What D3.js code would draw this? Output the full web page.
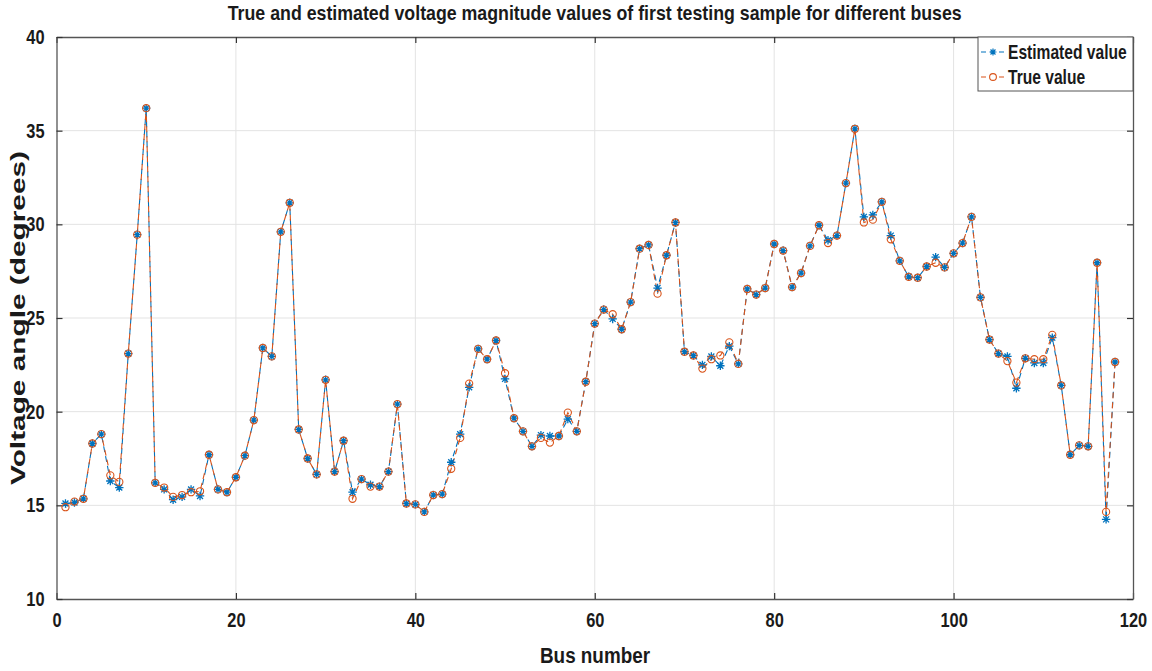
<!DOCTYPE html>
<html>
<head>
<meta charset="utf-8">
<script src="https://cdn.jsdelivr.net/npm/d3@7"></script>
<style>
html,body{margin:0;padding:0;background:#fff;}
svg{display:block;}
text{font-family:"Liberation Sans",Arial,sans-serif;font-weight:bold;fill:#1a1a1a;}
</style>
</head>
<body>
<svg id="chart" width="1152" height="671"></svg>
<script>
const buses = d3.range(1, 119);
const estimated = [
15.1,15.15,15.35,18.3,18.8,16.3,15.95,23.1,29.45,36.2,
16.2,15.85,15.3,15.45,15.85,15.5,17.7,15.85,15.7,16.5,
17.65,19.55,23.4,22.95,29.6,31.15,19.05,17.5,16.65,21.7,
16.8,18.45,15.7,16.4,16.1,16.0,16.8,20.4,15.1,15.05,
14.65,15.55,15.6,17.3,18.8,21.3,23.35,22.8,23.8,21.75,
19.65,18.95,18.15,18.75,18.7,18.7,19.6,18.95,21.6,24.7,
25.45,24.95,24.4,25.85,28.7,28.9,26.6,28.35,30.1,23.2,
23.0,22.5,22.95,22.45,23.5,22.55,26.55,26.25,26.6,28.95,
28.6,26.65,27.4,28.85,29.95,29.15,29.4,32.2,35.1,30.4,
30.5,31.2,29.4,28.05,27.2,27.15,27.75,28.25,27.7,28.45,
29.0,30.4,26.1,23.85,23.1,22.95,21.25,22.85,22.6,22.6,
23.95,21.4,17.7,18.2,18.15,27.95,14.25,22.65];
const trueVals = [
14.9,15.2,15.35,18.3,18.8,16.6,16.25,23.1,29.45,36.2,
16.2,15.95,15.45,15.55,15.7,15.75,17.7,15.85,15.7,16.5,
17.65,19.55,23.4,22.95,29.6,31.15,19.05,17.5,16.65,21.7,
16.8,18.45,15.35,16.4,16.0,16.0,16.8,20.4,15.1,15.05,
14.65,15.55,15.6,16.95,18.6,21.5,23.35,22.8,23.8,22.05,
19.65,18.95,18.15,18.6,18.35,18.7,19.95,18.95,21.6,24.7,
25.45,25.2,24.4,25.85,28.7,28.9,26.3,28.35,30.1,23.2,
23.0,22.3,22.8,23.0,23.7,22.55,26.55,26.25,26.6,28.95,
28.6,26.65,27.4,28.85,29.95,29.0,29.4,32.2,35.1,30.1,
30.25,31.2,29.2,28.05,27.2,27.15,27.75,27.95,27.7,28.45,
29.0,30.4,26.1,23.85,23.1,22.7,21.55,22.85,22.8,22.8,
24.1,21.4,17.7,18.2,18.15,27.95,14.65,22.65];
const xTicks = [0,20,40,60,80,100,120];
const yTicks = [10,15,20,25,30,35,40];
const titleText = "True and estimated voltage magnitude values of first testing sample for different buses";
const xLabel = "Bus number";
const yLabel = "Voltage angle (degrees)";
const seriesNames = ["Estimated value","True value"];
const colors = ["#0072BD","#D95319"];

const L = 56.5, R = 1133, T = 37, B = 599;
const svg = d3.select("#chart");
const x = d3.scaleLinear().domain([0,120]).range([L,R]);
const y = d3.scaleLinear().domain([10,40]).range([B,T]);

function condense(sel, f){
  sel.each(function(){
    const len = this.getComputedTextLength();
    d3.select(this).attr("textLength", len*f).attr("lengthAdjust","spacingAndGlyphs");
  });
}

// grid
const g = svg.append("g");
g.selectAll(".gx").data(xTicks.slice(1,-1)).join("line")
 .attr("x1",d=>x(d)).attr("x2",d=>x(d)).attr("y1",T).attr("y2",B)
 .attr("stroke","#e3e3e3").attr("stroke-width",1);
g.selectAll(".gy").data(yTicks.slice(1,-1)).join("line")
 .attr("y1",d=>y(d)).attr("y2",d=>y(d)).attr("x1",L).attr("x2",R)
 .attr("stroke","#e3e3e3").attr("stroke-width",1);

// axes
const axB = d3.axisBottom(x).tickValues(xTicks).tickSizeInner(-6).tickSizeOuter(0).tickPadding(14);
const axT = d3.axisTop(x).tickValues(xTicks).tickSizeInner(-6).tickSizeOuter(0).tickFormat("");
const axL = d3.axisLeft(y).tickValues(yTicks).tickSizeInner(-6).tickSizeOuter(0).tickPadding(12);
const axR = d3.axisRight(y).tickValues(yTicks).tickSizeInner(-6).tickSizeOuter(0).tickFormat("");
function style(sel){
  sel.select(".domain").attr("stroke","#555").attr("stroke-width",1.3);
  sel.selectAll(".tick line").attr("stroke","#333").attr("stroke-width",1.2);
  sel.selectAll(".tick text").attr("font-size",20).attr("fill","#1a1a1a")
    .style("font-family",'"Liberation Sans",Arial,sans-serif').style("font-weight","bold");
}
const gB = svg.append("g").attr("transform",`translate(0,${B})`).call(axB).call(style);
svg.append("g").attr("transform",`translate(0,${T})`).call(axT).call(style);
const gL = svg.append("g").attr("transform",`translate(${L},0)`).call(axL).call(style);
svg.append("g").attr("transform",`translate(${R},0)`).call(axR).call(style);
condense(gB.selectAll(".tick text"), 0.82);
condense(gL.selectAll(".tick text"), 0.82);

// lines
const data = [estimated, trueVals];
const line = d3.line().x((d,i)=>x(buses[i])).y(d=>y(d));
data.forEach((vals,k)=>{
  svg.append("path").datum(vals).attr("d",line).attr("fill","none")
   .attr("stroke",colors[k]).attr("stroke-width",1.1)
   .attr("stroke-dasharray","6,4")
   .attr("stroke-dashoffset", k===0 ? 0 : 5);
});
// markers
function starPath(cx,cy,r){
  const d=r*0.707;
  return `M${cx-r},${cy}L${cx+r},${cy}M${cx},${cy-r}L${cx},${cy+r}M${cx-d},${cy-d}L${cx+d},${cy+d}M${cx-d},${cy+d}L${cx+d},${cy-d}`;
}
svg.append("g").selectAll("path").data(estimated).join("path")
 .attr("d",(d,i)=>starPath(x(buses[i]),y(d),4.2))
 .attr("stroke",colors[0]).attr("stroke-width",1.3).attr("fill","none");
svg.append("g").selectAll("circle").data(trueVals).join("circle")
 .attr("cx",(d,i)=>x(buses[i])).attr("cy",d=>y(d)).attr("r",3.6)
 .attr("fill","none").attr("stroke",colors[1]).attr("stroke-width",1.1);

// title & labels
svg.append("text").attr("x",(L+R)/2).attr("y",20).attr("text-anchor","middle")
 .attr("font-size",21).attr("textLength",734).attr("lengthAdjust","spacingAndGlyphs").text(titleText);
svg.append("text").attr("x",595).attr("y",663).attr("text-anchor","middle")
 .attr("font-size",22).attr("textLength",110).attr("lengthAdjust","spacingAndGlyphs").text(xLabel);
svg.append("text").attr("transform",`translate(25,${(T+B)/2}) rotate(-90)`).attr("text-anchor","middle")
 .attr("font-size",20).attr("textLength",334).attr("lengthAdjust","spacingAndGlyphs").text(yLabel);

// legend
const lg = svg.append("g");
lg.append("rect").attr("x",978).attr("y",T).attr("width",R-978).attr("height",54)
 .attr("fill","#fff").attr("stroke","#555").attr("stroke-width",1);
seriesNames.forEach((n,k)=>{
  const yy = T + 15 + k*25;
  lg.append("line").attr("x1",981).attr("x2",1005).attr("y1",yy).attr("y2",yy)
   .attr("stroke",colors[k]).attr("stroke-width",1.1).attr("stroke-dasharray","5,4");
  if(k===0) lg.append("path").attr("d",starPath(993,yy,3.5)).attr("stroke",colors[0]).attr("stroke-width",1.2);
  else lg.append("circle").attr("cx",993).attr("cy",yy).attr("r",3.4).attr("fill","#fff").attr("stroke",colors[1]).attr("stroke-width",1.1);
  lg.append("g").attr("transform",`translate(1008,${yy+7}) scale(0.78,1)`)
    .append("text").attr("x",0).attr("y",0).attr("font-size",20).text(n);
});
</script>
</body>
</html>
